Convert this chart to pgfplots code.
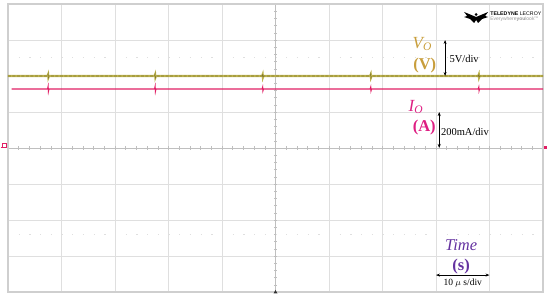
\documentclass[border=0pt]{standalone}
\usepackage{pgfplots}
\pgfplotsset{compat=1.18}
\usepackage{graphicx}
\usepackage{fontspec}
\setmainfont{Liberation Serif}
\setsansfont{Liberation Sans}
\usetikzlibrary{arrows.meta}
\definecolor{vgold}{RGB}{200,158,60}
\definecolor{imag}{RGB}{222,30,130}
\definecolor{tpurp}{RGB}{100,50,160}
\definecolor{trY}{RGB}{190,180,80}
\definecolor{trYd}{RGB}{125,115,40}
\definecolor{trR}{RGB}{225,30,100}
\begin{document}
\begin{tikzpicture}
\begin{axis}[scale only axis, width=535pt, height=288pt,
  xmin=-5, xmax=5, ymin=-4, ymax=4,
  axis lines=center, axis line style={-, gray!50, line width=0.5pt},
  xtick={-5,...,5}, ytick={-4,...,4},
  minor x tick num=4, minor y tick num=4,
  xticklabels={}, yticklabels={},
  tick align=center, major tick length=3.5pt, minor tick length=3.5pt,
  tick style={gray!50, line width=0.5pt},
  grid=major, major grid style={gray!25, line width=0.8pt},
  clip=false]
% frame
\draw[gray!38, line width=1.6pt] (rel axis cs:0,0) rectangle (rel axis cs:1,1);
% dotted half-division rows
\draw[gray!25, line width=1pt, dash pattern=on 1.2pt off 9.5pt] (axis cs:-4.8,2.5) -- (axis cs:5,2.5);
\draw[gray!25, line width=1pt, dash pattern=on 1.2pt off 9.5pt] (axis cs:-4.8,-2.4) -- (axis cs:5,-2.4);
% V_O trace
\addplot[trY, line width=2.2pt, forget plot] coordinates {
(-5,2.0) (-4.26,2.0) (-4.25,2.04) (-4.245,1.96) (-4.235,2.0)
(-2.26,2.0) (-2.25,2.04) (-2.245,1.96) (-2.235,2.0)
(-0.25,2.0) (-0.24,2.04) (-0.235,1.96) (-0.225,2.0)
(1.77,2.0) (1.78,2.04) (1.785,1.96) (1.795,2.0)
(3.79,2.0) (3.80,2.04) (3.805,1.96) (3.815,2.0) (5,2.0)};
\addplot[trYd, line width=0.6pt, dash pattern=on 3pt off 1.5pt, forget plot] coordinates {
(-5,2.0) (-4.26,2.0) (-4.25,2.06) (-4.245,1.95) (-4.235,2.0)
(-2.26,2.0) (-2.25,2.06) (-2.245,1.95) (-2.235,2.0)
(-0.25,2.0) (-0.24,2.06) (-0.235,1.95) (-0.225,2.0)
(1.77,2.0) (1.78,2.06) (1.785,1.95) (1.795,2.0)
(3.79,2.0) (3.80,2.06) (3.805,1.95) (3.815,2.0) (5,2.0)};
% I_O trace
\addplot[trR, line width=1.1pt, forget plot] coordinates {
(-4.93,1.64) (-4.26,1.64) (-4.25,1.71) (-4.245,1.57) (-4.235,1.64)
(-2.26,1.64) (-2.25,1.71) (-2.245,1.57) (-2.235,1.64)
(-0.25,1.64) (-0.24,1.69) (-0.235,1.59) (-0.225,1.64)
(1.77,1.64) (1.78,1.69) (1.785,1.59) (1.795,1.64)
(3.79,1.64) (3.80,1.69) (3.805,1.59) (3.815,1.64) (5,1.64)};
% annotations
\node[text=vgold, font=\fontsize{17}{17}\selectfont\itshape] at (axis cs:2.74,2.89) {V\raisebox{-2pt}{\fontsize{11.5}{11.5}\selectfont O}};
\node[text=vgold, font=\fontsize{16.5}{16.5}\selectfont\bfseries] at (axis cs:2.79,2.28) {(V)};
\draw[{Stealth[length=4pt,width=3pt]}-{Stealth[length=4pt,width=3pt]}, line width=0.7pt] (axis cs:3.17,3.0) -- (axis cs:3.17,2.0);
\node[anchor=west, inner sep=0pt, font=\fontsize{10.5}{10.5}\selectfont] at (axis cs:3.25,2.47) {5V/div};
\node[text=imag, font=\fontsize{17}{17}\selectfont\itshape] at (axis cs:2.62,1.14) {I\raisebox{-2pt}{\fontsize{11.5}{11.5}\selectfont O}};
\node[text=imag, font=\fontsize{16.5}{16.5}\selectfont\bfseries] at (axis cs:2.78,0.58) {(A)};
\draw[{Stealth[length=4pt,width=3pt]}-{Stealth[length=4pt,width=3pt]}, line width=0.7pt] (axis cs:3.06,1.0) -- (axis cs:3.06,0.0);
\node[anchor=west, inner sep=0pt, font=\fontsize{10.5}{10.5}\selectfont] at (axis cs:3.09,0.44) {200mA/div};
\node[text=tpurp, font=\fontsize{16.5}{16.5}\selectfont\itshape] at (axis cs:3.47,-2.69) {Time};
\node[text=tpurp, font=\fontsize{16.5}{16.5}\selectfont\bfseries] at (axis cs:3.47,-3.28) {(s)};
\draw[{Stealth[length=4pt,width=3pt]}-{Stealth[length=4pt,width=3pt]}, line width=0.7pt] (axis cs:3.0,-3.53) -- (axis cs:4.0,-3.53);
\node[font=\fontsize{9.5}{9.5}\selectfont] at (axis cs:3.5,-3.76) {10 $\mu$ s/div};
% helper coordinates
\coordinate (sw) at (rel axis cs:0,0);
\coordinate (ne) at (rel axis cs:1,1);
\coordinate (logo) at (axis cs:3.75,3.667);
\coordinate (lm) at (axis cs:-5,0);
\coordinate (rm) at (axis cs:5,0);
\coordinate (bm) at (axis cs:0,-4);
\end{axis}
% logo
\begin{scope}[shift={(logo)}]
\fill[black] (0,-1pt) -- (-12pt,4pt) -- (-9pt,0pt) -- (-12pt,-1pt) -- (-6pt,-3pt) -- (-2pt,-7pt) -- (0,-4pt) -- (2pt,-7pt) -- (6pt,-3pt) -- (12pt,-1pt) -- (9pt,0pt) -- (12pt,4pt) -- cycle;
\fill[black] (0,1.5pt) circle (1.6pt);
\end{scope}
\node[anchor=west, inner sep=0pt] at ([xshift=14pt,yshift=2.5pt]logo) {\resizebox{51pt}{!}{\sffamily\bfseries TELEDYNE \mdseries LECROY}};
\node[anchor=west, inner sep=0pt, text=gray!80] at ([xshift=14pt,yshift=-3.5pt]logo) {\resizebox{48pt}{!}{\sffamily Everywhere\textbf{you}look\textsuperscript{\tiny TM}}};
% markers
\draw[trR, line width=0.5pt] ([xshift=-6pt,yshift=1pt]lm) rectangle ([xshift=-2pt,yshift=4.5pt]lm);
\draw[trR, line width=1pt] ([xshift=-7pt,yshift=0pt]lm) -- ([xshift=-1pt,yshift=0pt]lm);
\fill[trR] ([xshift=1pt,yshift=-1.5pt]rm) rectangle ([xshift=4pt,yshift=1.5pt]rm);
\fill[gray!40!black] ([xshift=-2pt,yshift=-1.5pt]bm) -- ([xshift=2pt,yshift=-1.5pt]bm) -- ([yshift=2pt]bm) -- cycle;
\pgfresetboundingbox
\path[use as bounding box] ([shift={(-8pt,-8pt)}]sw) rectangle ([shift={(7pt,4pt)}]ne);
\end{tikzpicture}
\end{document}
